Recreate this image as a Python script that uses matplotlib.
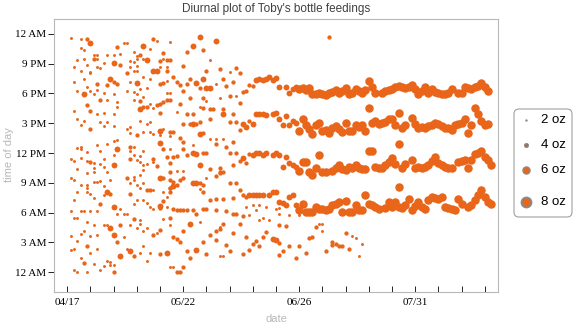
import numpy as np
import matplotlib
matplotlib.use("Agg")
import matplotlib.pyplot as plt
from matplotlib.patches import FancyBboxPatch

# feedings: (day after 04/17, hour of day, ounces)
# first weeks: no routine yet
early_pts = [
    (1, 23.6, 2), (4, 23.5, 2), (6, 23.5, 4), (7, 23.1, 6), (17, 23.1, 2), (18, 23.1, 2), (26, 23.5, 4), (27, 23.3, 2), (31, 23.2, 2),
    (4, 22.6, 2), (5, 22.4, 2), (15, 22.7, 4), (23, 22.8, 6), (25, 22.5, 2),
    (8, 21.9, 2), (9, 21.9, 2), (12, 21.9, 2), (14, 21.9, 2), (8, 21.5, 4), (16, 22.0, 2), (20, 22.2, 2), (21, 21.8, 2), (22, 21.9, 4), (29, 22.1, 4),
    (3, 21.4, 2), (5, 21.5, 2), (9, 21.5, 2), (14, 21.1, 6), (11, 21.1, 2), (19, 21.3, 2), (20, 21.2, 2), (21, 21.5, 2), (24, 21.4, 6), (23, 21.5, 2), (28, 21.3, 4), (29, 21.5, 2), (30, 21.4, 4),
    (2, 20.7, 2), (6, 20.9, 2), (4, 20.3, 2), (10, 20.6, 2), (9, 20.7, 2), (7, 20.2, 2), (16, 20.9, 4), (19, 20.7, 2), (21, 20.8, 2), (21, 20.3, 2), (20, 20.3, 2), (26, 20.3, 6), (27, 20.3, 6), (28, 20.7, 2), (30, 20.7, 2),
    (2, 19.2, 2), (5, 19.5, 2), (7, 20.1, 2), (13, 19.5, 6), (14, 19.2, 4), (15, 19.0, 4), (12, 18.9, 4), (18, 20.1, 4), (9, 19.0, 4), (19, 19.2, 2), (21, 19.1, 6), (23, 19.7, 2), (25, 19.5, 2), (28, 19.0, 4), (29, 19.1, 4), (30, 19.3, 2),
    (6, 18.7, 2), (3, 18.2, 2), (5, 17.9, 6), (7, 18.2, 2), (8, 17.9, 2), (9, 18.3, 2), (11, 18.0, 2), (14, 17.9, 2), (18, 18.2, 2), (20, 18.1, 2), (22, 18.4, 2), (24, 18.5, 2), (21, 17.9, 2), (23, 17.6, 2), (31, 18.0, 2),
    (10, 17.3, 4), (12, 17.3, 2), (15, 17.1, 2), (6, 16.8, 4), (7, 16.2, 4), (2, 16.2, 2), (9, 15.9, 2), (11, 16.0, 2), (14, 15.9, 2), (15, 16.6, 2), (20, 17.3, 2), (22, 17.2, 4), (23, 16.6, 4), (24, 16.6, 4), (25, 16.9, 2), (22, 16.4, 6), (26, 16.5, 2), (27, 16.8, 4), (28, 16.9, 4), (29, 17.1, 4), (30, 17.3, 4), (31, 17.3, 4), (28, 16.0, 4),
    (3, 15.4, 2), (5, 15.2, 2), (4, 14.8, 2), (10, 15.1, 2), (12, 15.1, 2), (11, 14.7, 2), (14, 14.7, 2), (7, 14.4, 4), (22, 15.2, 2), (24, 14.9, 2), (25, 15.1, 2), (19, 14.6, 2), (18, 14.4, 2), (19, 14.0, 2), (23, 14.1, 2), (21, 13.8, 4), (26, 13.9, 2), (25, 14.1, 2), (28, 14.2, 6), (29, 14.4, 2), (31, 13.7, 2), (28, 13.8, 2),
    (9, 12.8, 2), (12, 12.9, 2), (14, 13.2, 2), (15, 13.3, 2), (4, 12.6, 2), (4, 12.4, 2), (3, 12.5, 2), (6, 12.1, 2), (10, 12.2, 2), (15, 12.4, 6), (14, 11.8, 2), (19, 12.6, 4), (20, 12.6, 2), (19, 12.2, 2), (23, 12.2, 2), (28, 13.0, 6), (29, 12.4, 4), (31, 12.4, 2),
    (1, 11.4, 2), (2, 11.2, 2), (4, 11.5, 2), (6, 11.2, 2), (3, 10.4, 2), (7, 11.1, 4), (8, 11.0, 2), (8, 10.5, 2), (8, 10.1, 2), (11, 11.4, 2), (10, 10.9, 2), (6, 10.0, 2), (11, 10.6, 2), (14, 10.8, 6), (12, 10.1, 2), (19, 11.4, 4), (21, 11.3, 2), (22, 11.7, 2), (22, 11.1, 2), (23, 10.8, 2), (23, 10.3, 2), (20, 11.8, 2), (24, 10.9, 2), (26, 11.1, 2), (26, 11.4, 4), (27, 10.7, 4), (31, 11.0, 4), (22, 9.8, 2),
    (1, 9.5, 2), (2, 9.3, 2), (4, 8.8, 2), (6, 8.8, 2), (6, 8.5, 2), (8, 9.1, 2), (9, 9.1, 2), (10, 9.2, 2), (7, 7.9, 2), (8, 7.5, 2), (6, 8.1, 2), (3, 8.1, 2), (2, 7.3, 2), (11, 8.7, 2), (13, 9.3, 2), (12, 8.1, 6), (13, 7.9, 4), (11, 7.8, 2), (18, 9.5, 4), (19, 9.0, 2), (20, 9.6, 2), (20, 9.3, 2), (21, 8.8, 2), (22, 8.5, 2), (23, 9.0, 2), (24, 8.3, 4), (25, 8.3, 4), (26, 8.3, 2), (28, 9.5, 6), (29, 9.5, 4), (29, 8.1, 2), (31, 8.5, 4), (31, 8.1, 4),
    (10, 6.9, 4), (14, 6.6, 6), (16, 6.4, 2), (19, 7.9, 4), (20, 6.9, 2), (21, 7.3, 2), (23, 7.3, 2), (24, 7.0, 2), (25, 6.6, 2), (26, 6.4, 2), (28, 6.5, 4), (28, 6.7, 6), (29, 7.2, 4), (30, 7.6, 2),
    (1, 6.2, 2), (4, 6.2, 2), (5, 6.2, 2), (7, 6.2, 2), (9, 6.2, 2), (15, 5.9, 2), (17, 5.9, 2), (18, 5.9, 2), (2, 5.5, 2), (3, 5.5, 2), (6, 5.1, 2), (20, 5.4, 4), (22, 5.3, 2), (29, 5.4, 2), (31, 5.5, 2),
    (8, 4.7, 2), (11, 4.7, 2), (12, 4.7, 2), (13, 4.4, 6), (16, 4.7, 4), (19, 4.7, 2), (21, 4.4, 2), (22, 4.8, 2), (24, 4.4, 2), (28, 4.2, 4), (31, 4.7, 2), (5, 4.1, 2), (4, 3.8, 2), (1, 3.6, 2), (7, 3.6, 2), (9, 3.7, 2), (14, 3.7, 6), (17, 3.5, 2), (23, 4.1, 2), (26, 3.7, 4), (27, 3.9, 2),
    (3, 3.1, 2), (15, 3.0, 4), (6, 2.6, 4), (9, 2.3, 2), (7, 1.9, 2), (1, 2.2, 2), (2, 2.3, 2), (18, 2.3, 2), (19, 2.1, 6), (20, 1.6, 4), (22, 1.9, 2), (25, 1.9, 2), (23, 2.6, 2), (28, 1.8, 4), (30, 1.9, 6),
    (4, 1.4, 2), (5, 0.9, 4), (8, 0.8, 2), (10, 0.2, 2), (12, 1.1, 2), (11, 0.6, 2), (13, 1.0, 2), (13, 0.7, 2), (14, 0.7, 2), (16, 1.6, 6), (24, 1.1, 2), (2, 0.2, 2), (3, 0.0, 2), (6, 0.0, 2), (14, 0.0, 4),
]

# late May to early June: bands start to form
mid_pts = [
    (40, 23.7, 6), (45, 23.3, 6), (38, 22.8, 6), (41, 22.4, 4), (36, 22.2, 4), (43, 21.4, 2), (31, 21.4, 4), (35, 20.8, 4), (42, 20.3, 4), (46, 20.5, 4), (49, 20.2, 2), (51, 20.6, 4), (52, 20.1, 4), (30, 20.3, 4),
    (32, 19.7, 4), (37, 19.5, 4), (41, 19.5, 6), (47, 19.5, 4), (33, 19.2, 4), (34, 18.9, 4), (36, 19.0, 4), (39, 19.1, 6), (40, 18.5, 4), (42, 18.5, 6), (43, 18.5, 6), (45, 19.0, 2), (48, 18.8, 4), (50, 19.2, 4), (35, 18.2, 4), (30, 18.0, 2),
    (37, 17.5, 4), (41, 17.5, 4), (42, 17.2, 2), (46, 17.5, 2), (49, 17.7, 4), (51, 17.7, 2), (53, 18.1, 4), (54, 18.2, 4), (52, 17.0, 4), (55, 18.9, 4), (56, 18.8, 4),
    (57, 19.4, 6), (58, 19.5, 6), (59, 19.4, 6), (60, 19.5, 6), (61, 19.7, 6), (62, 19.4, 6),
    (34, 16.9, 4), (33, 16.1, 2), (36, 15.9, 4), (38, 15.9, 4), (35, 14.9, 4), (37, 14.9, 4), (38, 14.9, 6), (39, 14.9, 4), (40, 15.1, 4), (40, 16.6, 2), (41, 16.5, 4), (43, 16.4, 4), (44, 16.4, 4), (47, 16.4, 4), (47, 15.9, 6), (50, 15.9, 4), (43, 15.4, 4), (49, 15.1, 4), (51, 15.1, 4), (53, 14.9, 6), (54, 14.6, 6), (52, 14.3, 4), (55, 15.2, 4), (56, 14.9, 6),
    (57, 15.9, 6), (58, 15.9, 6), (59, 15.9, 6), (60, 15.8, 6), (62, 15.9, 6),
    (31, 14.1, 4), (32, 14.1, 4), (34, 13.5, 4), (35, 13.1, 4), (40, 13.9, 6), (41, 14.0, 4), (38, 12.8, 2), (43, 13.4, 2), (45, 13.4, 2), (47, 13.4, 2), (45, 12.9, 4), (50, 13.1, 4), (48, 12.6, 4), (35, 12.4, 4),
    (30, 11.6, 4), (32, 11.6, 4), (33, 11.7, 4), (36, 11.8, 4), (38, 12.0, 6), (39, 11.9, 6), (41, 12.0, 4), (42, 12.0, 4), (49, 12.0, 4), (51, 12.0, 4), (52, 11.2, 4), (53, 11.5, 6), (54, 11.0, 4), (55, 11.9, 4),
    (56, 11.8, 6), (57, 12.0, 6), (58, 12.0, 6), (59, 11.8, 6), (60, 12.0, 6), (62, 11.8, 6),
    (40, 10.8, 6), (43, 10.4, 4), (46, 10.5, 4), (46, 10.1, 4), (47, 10.1, 4), (50, 10.8, 4), (35, 10.2, 2), (33, 10.2, 2), (31, 10.1, 4),
    (31, 9.3, 4), (32, 9.1, 4), (34, 9.3, 4), (35, 9.5, 4), (38, 9.0, 6), (39, 9.0, 6), (40, 9.0, 4), (31, 8.5, 4), (32, 8.7, 6), (33, 8.8, 4), (40, 8.4, 2), (41, 8.1, 4), (41, 8.8, 4), (42, 9.5, 2), (45, 9.7, 4), (46, 10.0, 4), (49, 9.0, 4), (51, 9.0, 4), (52, 8.3, 4), (53, 7.8, 4), (54, 7.6, 4),
    (55, 7.8, 6), (56, 7.8, 6), (57, 7.8, 6), (58, 7.8, 6), (59, 7.8, 6), (61, 7.8, 6), (62, 8.1, 6),
    (32, 6.4, 4), (33, 6.3, 4), (34, 6.3, 4), (35, 6.3, 4), (36, 6.3, 4), (38, 6.3, 4), (39, 5.9, 4), (41, 6.4, 4), (42, 6.4, 4), (45, 6.3, 4), (43, 7.3, 4), (45, 7.4, 4), (47, 7.4, 4), (50, 7.5, 4), (48, 6.2, 4), (50, 5.9, 4), (51, 5.9, 4), (53, 5.7, 4),
    (54, 6.6, 2), (56, 6.8, 2), (58, 6.8, 2), (60, 6.6, 2), (63, 6.4, 2), (64, 6.5, 2), (55, 5.8, 2), (57, 6.3, 2), (59, 5.5, 2), (61, 5.3, 2), (58, 5.3, 2),
    (30, 6.6, 2), (31, 5.5, 4), (37, 4.9, 6), (40, 5.1, 2), (52, 4.9, 4), (46, 4.5, 2), (47, 4.9, 4), (45, 4.1, 4), (46, 4.3, 4), (43, 3.7, 4), (50, 3.9, 4), (35, 4.1, 4), (32, 3.5, 4), (33, 3.3, 4), (34, 3.0, 4), (41, 3.0, 4), (45, 3.2, 4), (54, 3.5, 4), (59, 3.5, 4), (60, 4.0, 4), (57, 3.1, 4), (56, 2.8, 4), (58, 2.6, 4), (62, 3.3, 6), (63, 3.2, 6), (64, 2.9, 4),
    (48, 2.7, 4), (49, 2.1, 4), (39, 2.2, 6), (36, 2.1, 4), (53, 1.8, 4), (55, 2.2, 4), (37, 1.4, 4), (42, 1.8, 4), (46, 1.6, 2), (47, 1.6, 2), (64, 1.7, 4), (31, 0.5, 2), (32, 0.5, 2), (33, 0.0, 4), (34, 0.0, 4), (35, 0.5, 4),
]

# from mid June: four feedings a day
eve_day = [63, 64, 66, 67, 68, 69, 70, 71, 72, 73, 74, 75, 76, 77, 78, 79, 80, 81, 82, 83, 84, 85, 86, 87, 88, 89, 90, 91, 92, 93,
           95, 96, 97, 98, 99, 100, 101, 102, 103, 104, 105, 106, 107, 108, 109, 110, 111, 112, 113, 114, 115, 116,
           118, 119, 120, 121, 122, 123, 124, 125, 126, 127]
eve_hour = [19.6, 18.6, 18.6, 18.0, 18.4, 18.7, 18.4, 18.5, 18.3, 18.5, 17.9, 17.9, 18.0, 17.9, 17.8, 18.0, 18.1, 18.3, 18.0, 18.2, 18.5, 17.9, 18.0, 18.4, 18.2, 18.0, 18.3, 19.3, 18.6, 18.0,
            18.0, 18.2, 18.3, 18.4, 18.6, 18.8, 18.6, 18.5, 18.7, 18.9, 18.4, 17.9, 18.2, 18.7, 18.0, 18.4, 18.1, 18.0, 17.9, 17.9, 18.0, 18.4,
            18.0, 18.0, 18.7, 18.5, 18.4, 18.6, 18.8, 19.1, 18.7, 18.2]
eve_oz = [6] * 6 + [8] * 56

aft_day = [63, 64, 65, 66, 67, 68, 69, 70, 71, 72, 73, 74, 75, 76, 77, 78, 79, 80, 81, 82, 83, 84, 85, 86, 87, 88, 89, 90, 91, 92,
           93, 94, 95, 96, 97, 98, 99, 100, 101, 102, 104, 105, 106, 107, 108, 109, 110, 111, 112, 113, 114, 115, 116, 117,
           118, 119, 120, 121, 122, 123, 124, 125, 126, 127]
aft_hour = [16.0, 15.4, 14.8, 15.7, 14.8, 15.2, 15.0, 14.2, 15.4, 14.8, 14.4, 13.9, 14.8, 15.0, 14.2, 14.3, 14.0, 14.5, 14.7, 14.4, 14.1, 15.0, 14.2, 14.2, 14.8, 14.6, 14.8, 14.2, 16.5, 15.0,
            15.2, 14.9, 15.0, 15.1, 15.4, 15.4, 14.8, 16.0, 14.5, 14.8, 15.5, 14.9, 14.5, 14.6, 14.5, 14.7, 14.8, 15.0, 14.9, 14.7, 14.5, 14.5, 14.3, 14.8,
            14.9, 15.0, 15.4, 14.0, 14.8, 16.5, 15.9, 15.2, 14.8, 14.9]
aft_oz = [6] * 7 + [8] * 57

morn_day = [63, 64, 65, 66, 67, 68, 69, 70, 71, 72, 73, 74, 75, 76, 77, 78, 80, 81, 82, 83, 84, 85, 86, 87, 88, 89, 90, 91, 92, 93,
            94, 95, 96, 97, 98, 99, 100, 101, 102, 104, 105, 106, 107, 108, 109, 110, 111, 112, 113, 114, 115, 116,
            118, 119, 120, 121, 122, 123, 124, 125, 126, 127, 128]
morn_hour = [12.0, 11.8, 10.6, 11.6, 11.0, 10.8, 10.6, 10.2, 11.1, 11.1, 10.1, 9.8, 10.5, 11.8, 10.1, 10.1, 10.2, 10.5, 10.8, 10.4, 10.3, 10.6, 10.5, 10.8, 10.5, 10.4, 10.4, 12.2, 12.2, 10.6,
             10.5, 10.5, 10.8, 11.1, 11.5, 10.9, 12.9, 10.5, 10.9, 11.3, 10.5, 10.6, 10.5, 10.6, 10.8, 11.2, 11.6, 11.0, 10.8, 10.6, 10.5, 10.5,
             11.1, 11.2, 11.3, 10.5, 11.3, 11.9, 12.0, 12.2, 11.6, 11.3, 10.8]
morn_oz = [6] * 7 + [8] * 56

dawn_day = [63, 64, 65, 66, 67, 68, 69, 70, 71, 72, 73, 74, 75, 76, 77, 78, 79, 80, 81, 82, 83, 84, 85, 86, 87, 88, 89, 90, 91, 92,
            93, 94, 96, 97, 98, 99, 100, 100, 101, 102, 103, 104, 105, 106, 107, 108, 109, 110, 111, 112, 113, 114, 115, 116, 117, 118, 119,
            121, 122, 123, 124, 125, 126, 127, 128]
dawn_hour = [8.1, 7.1, 7.0, 6.8, 7.6, 7.8, 6.8, 6.3, 6.9, 6.1, 6.1, 6.1, 6.6, 6.4, 6.4, 6.3, 6.4, 6.8, 6.9, 7.1, 6.1, 7.2, 6.1, 6.1, 6.8, 6.3, 6.3, 7.8, 6.9, 6.8,
             6.6, 6.4, 6.5, 7.1, 6.6, 7.1, 6.6, 8.6, 6.5, 6.8, 7.4, 6.3, 6.7, 7.1, 6.6, 6.4, 7.3, 7.6, 7.5, 7.4, 7.6, 6.6, 6.5, 6.4, 6.3, 7.4, 6.9,
             6.6, 6.8, 7.3, 7.8, 8.3, 7.6, 7.1, 6.9]
dawn_oz = [6] * 7 + [8] * 58

# leftover night feeds and odd ones after mid June
late_pts = [
    (79, 23.7, 4), (64, 5.9, 2), (67, 5.8, 2), (70, 5.8, 2), (64, 4.7, 4), (66, 4.6, 4), (75, 4.5, 4), (76, 4.9, 2), (77, 4.9, 2), (77, 4.1, 2),
    (74, 3.5, 4), (73, 3.4, 4), (84, 3.9, 4), (86, 3.6, 2), (87, 3.4, 2), (89, 2.8, 2), (67, 2.6, 4), (70, 2.6, 4), (65, 2.1, 4),
    (69, 1.4, 4), (72, 1.9, 4), (78, 2.1, 4), (80, 2.7, 4), (80, 3.0, 4), (81, 2.8, 4), (82, 2.6, 4), (83, 2.6, 4), (85, 2.3, 4), (88, 1.6, 2),
]

oz_sizes = [2, 4, 6, 8]
hour_ticks = [0, 3, 6, 9, 12, 15, 18, 21, 24]
hour_labels = ["12 AM", "3 AM", "6 AM", "9 AM", "12 PM", "3 PM", "6 PM", "9 PM", "12 AM"]

start = np.datetime64("2013-04-17")
orange = "#e8651a"
# marker area (pt^2) per bottle size
msize = {2: 4.5, 4: 9.5, 6: 18.0, 8: 37.0}

day = []
hour = []
oz = []
for pts in (early_pts, mid_pts, late_pts):
    for d, h, o in pts:
        day.append(d)
        hour.append(h)
        oz.append(o)
for dd, hh, oo in ((eve_day, eve_hour, eve_oz), (aft_day, aft_hour, aft_oz),
                   (morn_day, morn_hour, morn_oz), (dawn_day, dawn_hour, dawn_oz)):
    assert len(dd) == len(hh) == len(oo)
    day += dd
    hour += hh
    oz += oo

day = np.array(day)
hour = np.array(hour)
oz = np.array(oz)
when = start + day.astype("timedelta64[D]")

W, H = 574, 328
fig = plt.figure(figsize=(W / 100, H / 100), dpi=100)
ax = fig.add_axes([54 / W, 1 - 292 / H, 444 / W, 273 / H])

for o in oz_sizes:
    m = oz == o
    ax.scatter(when[m], hour[m], s=msize[o], c=orange, linewidths=0, zorder=2 + o)

ax.set_xlim(start - np.timedelta64(4, "D"), start + np.timedelta64(130, "D"))
ax.set_ylim(-2.0, 25.5)

major = start + np.arange(0, 106, 35).astype("timedelta64[D]")
minor = start + np.arange(0, 127, 7).astype("timedelta64[D]")
ax.set_xticks(major)
ax.set_xticklabels([str(d)[5:].replace("-", "/") for d in major])
ax.set_xticks(minor, minor=True)
ax.set_yticks(hour_ticks)
ax.set_yticklabels(hour_labels)

for s in ax.spines.values():
    s.set_color("#b8b8b8")
    s.set_linewidth(0.8)
ax.tick_params(axis="x", which="both", direction="in", length=4, width=0.6, color="black",
               pad=4, labelsize=8)
ax.tick_params(axis="y", direction="out", length=4, width=0.6, color="black", pad=1.5, labelsize=8)
for lab in ax.get_xticklabels() + ax.get_yticklabels():
    lab.set_family("Liberation Serif")

fig.text(276 / W, 1 - 9 / H, "Diurnal plot of Toby's bottle feedings", ha="center", va="center",
         fontsize=8.5, color="#404040", family="Liberation Sans")
fig.text(276 / W, 1 - 319 / H, "date", ha="center", va="center", fontsize=8,
         color="#b8b8b8", family="Liberation Sans")
fig.text(9 / W, 1 - 155 / H, "time of day", ha="center", va="center", rotation=90,
         fontsize=8, color="#b8b8b8", family="Liberation Sans")

# legend drawn in pixel space
lg = fig.add_axes([0, 0, 1, 1], facecolor="none")
lg.set_xlim(0, W)
lg.set_ylim(H, 0)
lg.axis("off")
lg.add_patch(FancyBboxPatch((514, 109), 58, 108, boxstyle="round,pad=0,rounding_size=5",
                            fc="white", ec="#a0a0a0", lw=0.8))
leg_y = [120, 145, 170, 202]
leg_s = [3, 9, 26, 52]
leg_face = ["#8a8a8a", "#a07060", orange, orange]
leg_lw = [0, 0.6, 1.0, 1.3]
for o, yy, ss, fc, lw in zip(oz_sizes, leg_y, leg_s, leg_face, leg_lw):
    lg.scatter([526], [yy], s=ss, c=fc, edgecolors="#8a8a8a", linewidths=lw)
    lg.text(541, yy, "%d oz" % o, ha="left", va="center", fontsize=9.5, family="Liberation Sans")

fig.savefig("out.png", dpi=100)
